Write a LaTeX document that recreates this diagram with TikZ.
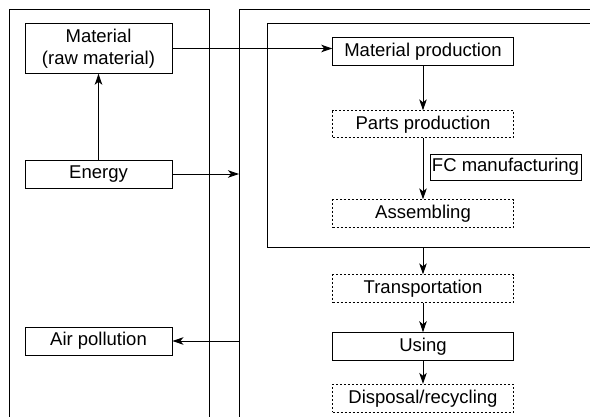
\documentclass[tikz,border=0pt]{standalone}
\usepackage{fontspec}
\setmainfont{Liberation Sans}
\usetikzlibrary{arrows.meta}
\begin{document}
\begin{tikzpicture}[x=1pt,y=-1pt,
  every node/.style={font=\fontsize{18.5}{21.5}\selectfont, inner sep=0pt},
  box/.style={draw, line width=0.9pt, minimum height=28pt, align=center},
  lbox/.style={box, minimum width=147pt},
  cbox/.style={box, minimum width=180.6pt},
  dbox/.style={cbox, dash pattern=on 2pt off 2pt},
  frame/.style={line width=0.9pt},
  arr/.style={line width=0.9pt, -{Stealth[length=11pt,width=7.5pt,inset=3pt]}}]
\useasboundingbox (0,0) rectangle (590,417);

% outer frames and the inner production frame
\draw[frame] (9,417) -- (9,9) -- (209,9) -- (209,417);
\draw[frame] (239,417) -- (239,9) -- (590,9);
\draw[frame] (590,23) -- (267,23) -- (267,247.7) -- (590,247.7);
\coordinate (inleft) at (239,174);
\coordinate (outleft) at (239,341);
\coordinate (inbottom) at (423,247.7);

% left column
\node[lbox, minimum height=49.6pt] (mat) at (98.5,48.5) {Material\\(raw material)};
\node[lbox] (energy) at (98.5,174) {Energy};
\node[lbox] (air) at (98.5,341) {Air pollution};

% life-cycle stages
\node[cbox] (mp) at (423,51.7) {Material production};
\node[dbox, minimum height=27pt] (pp) at (423,124.3) {Parts production};
\node[box, minimum width=151pt, minimum height=26pt] (fc) at (505.5,167) {FC manufacturing};
\node[dbox] (asm) at (423,213.8) {Assembling};
\node[dbox] (tr) at (423,288.8) {Transportation};
\node[cbox] (use) at (423,346.7) {Using};
\node[dbox] (disp) at (423,398.3) {Disposal/recycling};

% connectors
\draw[arr] (energy.north) -- (mat.south);
\draw[arr] (mat.east) -- (mat.east -| mp.west);
\draw[arr] (energy.east) -- (inleft);
\draw[arr] (outleft) -- (air.east);
\draw[arr] (mp.south) -- (pp.north);
\draw[arr] (pp.south) -- (asm.north);
\draw[arr] (inbottom) -- (tr.north);
\draw[arr] (tr.south) -- (use.north);
\draw[arr] (use.south) -- (disp.north);
\end{tikzpicture}
\end{document}
